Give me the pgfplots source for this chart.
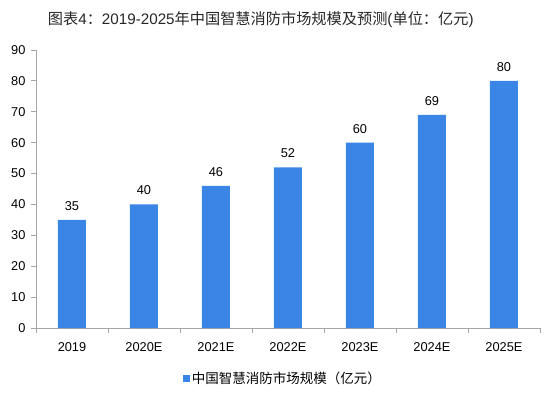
\documentclass[border=0pt]{standalone}
\usepackage{pgfplots}
\pgfplotsset{compat=1.18}
\usepackage{fontspec}
\setmainfont{Liberation Sans}
\newfontfamily\cjk{Noto Sans CJK SC}
\definecolor{barblue}{HTML}{3A85E5}
\definecolor{axgray}{HTML}{A6A6A6}
\begin{document}
\begin{tikzpicture}
\begin{axis}[
  at={(0,0)}, anchor=south west,
  scale only axis,
  width=504pt, height=278pt,
  xmin=-0.5, xmax=6.5,
  ymin=0, ymax=90,
  ytick={0,10,...,90},
  xtick={0,...,6},
  xticklabels={2019,2020E,2021E,2022E,2023E,2024E,2025E},
  minor xtick={-0.5,0.5,...,6.5},
  major x tick style={draw=none},
  minor tick length=5pt,
  major tick length=5pt,
  tick align=outside,
  axis x line*=bottom,
  axis y line*=left,
  axis line style={axgray, line width=0.8pt},
  tick style={axgray, line width=0.8pt},
  every tick label/.append style={font=\fontsize{12.8}{14}\selectfont, text=black},
  /pgf/number format/assume math mode=true,
  xticklabel style={yshift=-6pt},
  yticklabel style={xshift=-2pt},
  ybar, bar width=28pt,
  nodes near coords,
  every node near coord/.append style={font=\fontsize{12.8}{14}\selectfont, text=black, yshift=6pt},
  legend style={at={(0.49,-0.18)}, anchor=center, draw=none, fill=none,
    font=\fontsize{13.5}{15}\selectfont\cjk},
  legend image code/.code={\fill[barblue] (0pt,-3.5pt) rectangle (7pt,3.5pt);},
  clip=false,
]
\addplot[fill=barblue, draw=none] coordinates {(0,35) (1,40) (2,46) (3,52) (4,60) (5,69) (6,80)};
\addlegendentry{中国智慧消防市场规模（亿元）}
\node[font=\fontsize{15.2}{17}\selectfont, text=black!85] at (rel axis cs:0.446,1.108) {{\cjk 图表}4{\cjk ：}2019-2025{\cjk 年中国智慧消防市场规模及预测}({\cjk 单位：亿元})};
\end{axis}
\pgfresetboundingbox
\useasboundingbox (-36pt,-65pt) rectangle (512pt,328pt);
\end{tikzpicture}
\end{document}
